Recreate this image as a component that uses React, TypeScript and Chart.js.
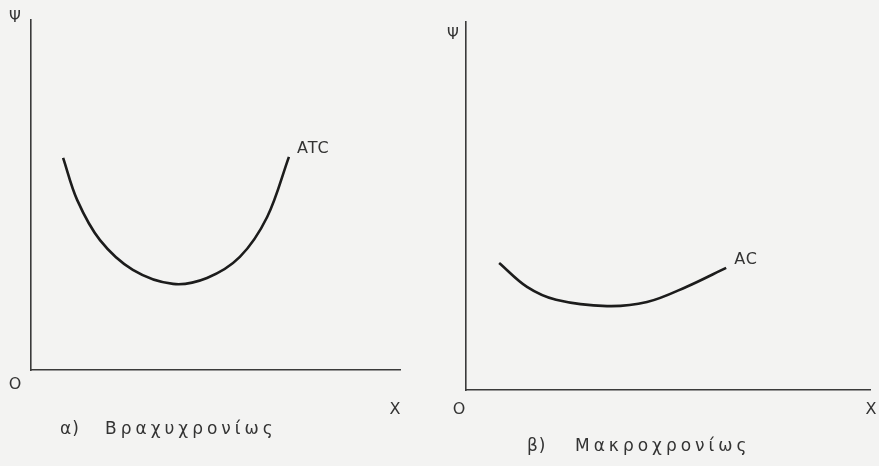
import React, { useEffect, useRef } from "react";
import { Chart, registerables } from "chart.js";

Chart.register(...registerables);

// Short-run average total cost (ATC), output on x, cost on y
const atcX = [0.87, 1.25, 1.87, 2.76, 3.85, 4.77, 5.66, 6.4, 6.99];
const atcY = [6.06, 4.86, 3.71, 2.86, 2.46, 2.63, 3.23, 4.37, 6.09];

// Long-run average cost (AC)
const acX = [0.82, 1.51, 2.23, 3.49, 4.48, 5.45, 6.44];
const acY = [3.45, 2.8, 2.45, 2.28, 2.39, 2.8, 3.32];

const INK = "#1c1c1c";
const AXIS = "#3a3a3a";
const TEXT = "#333333";
const FONT = "DejaVu Sans, sans-serif";

type PanelText = {
  curveLabel: string;
  tag: string;
  caption: string;
  psi: [number, number];
  origin: [number, number];
  xLab: [number, number];
  tag0: [number, number];
  caption0: [number, number];
};

const panelTextPlugin = (t: PanelText) => ({
  id: "panelText",
  afterDraw(chart: any) {
    const { ctx, chartArea } = chart;
    const { left, right, top, bottom } = chartArea;
    ctx.save();
    ctx.fillStyle = TEXT;
    ctx.textBaseline = "middle";
    ctx.textAlign = "center";
    ctx.font = `15px ${FONT}`;
    ctx.fillText("Ψ", left + t.psi[0], top + t.psi[1]);
    ctx.font = `16px ${FONT}`;
    ctx.fillText("O", left + t.origin[0], bottom + t.origin[1]);
    ctx.fillText("X", right + t.xLab[0], bottom + t.xLab[1]);

    // curve name next to the last point of the line
    const meta = chart.getDatasetMeta(0);
    const last = meta.data[meta.data.length - 1];
    ctx.textAlign = "left";
    ctx.font = `16px ${FONT}`;
    (ctx as any).letterSpacing = "1px";
    ctx.fillText(t.curveLabel, last.x + 8, last.y - 8);

    // panel caption: tag then the period name
    ctx.font = `17px ${FONT}`;
    (ctx as any).letterSpacing = "1px";
    ctx.fillText(t.tag, left + t.tag0[0], bottom + t.tag0[1]);
    (ctx as any).letterSpacing = "4px";
    ctx.fillText(t.caption, left + t.caption0[0], bottom + t.caption0[1]);
    ctx.restore();
  },
});

function makeConfig(
  xs: number[],
  ys: number[],
  padding: { left: number; right: number; top: number; bottom: number },
  text: PanelText
): any {
  const axis = () => ({
    type: "linear",
    min: 0,
    max: 10,
    grid: { display: false, drawTicks: false },
    ticks: { display: false },
    border: { display: true, color: AXIS, width: 1.6 },
  });
  return {
    type: "scatter",
    data: {
      datasets: [
        {
          data: xs.map((x, i) => ({ x, y: ys[i] })),
          showLine: true,
          borderColor: INK,
          borderWidth: 2.6,
          pointRadius: 0,
          tension: 0.35,
          fill: false,
        },
      ],
    },
    options: {
      responsive: false,
      animation: false,
      layout: { padding },
      plugins: { legend: { display: false }, tooltip: { enabled: false } },
      scales: { x: axis(), y: axis() },
    },
    plugins: [panelTextPlugin(text)],
  };
}

function Panel(props: {
  left: number;
  width: number;
  xs: number[];
  ys: number[];
  padding: { left: number; right: number; top: number; bottom: number };
  text: PanelText;
}) {
  const ref = useRef<HTMLCanvasElement>(null);
  useEffect(() => {
    if (!ref.current) return;
    const chart = new Chart(ref.current, makeConfig(props.xs, props.ys, props.padding, props.text));
    return () => chart.destroy();
  }, []);
  return (
    <canvas
      ref={ref}
      width={props.width}
      height={466}
      style={{ position: "absolute", left: props.left, top: 0, width: props.width, height: 466 }}
    />
  );
}

export default function App() {
  return (
    <div
      style={{
        position: "fixed",
        left: 0,
        top: 0,
        width: 879,
        height: 466,
        background: "#f3f3f2",
        overflow: "hidden",
      }}
    >
      <Panel
        left={0}
        width={440}
        xs={atcX}
        ys={atcY}
        padding={{ left: 31, right: 40, top: 20, bottom: 96 }}
        text={{
          curveLabel: "ATC",
          tag: "α)",
          caption: "Βραχυχρονίως",
          psi: [-16, -2],
          origin: [-16, 15],
          xLab: [-5, 40],
          tag0: [29, 60],
          caption0: [74, 60],
        }}
      />
      <Panel
        left={440}
        width={439}
        xs={acX}
        ys={acY}
        padding={{ left: 26, right: 9, top: 22, bottom: 76 }}
        text={{
          curveLabel: "AC",
          tag: "β)",
          caption: "Μακροχρονίως",
          psi: [-13, 13],
          origin: [-7, 20],
          xLab: [1, 20],
          tag0: [61, 57],
          caption0: [109, 57],
        }}
      />
    </div>
  );
}
